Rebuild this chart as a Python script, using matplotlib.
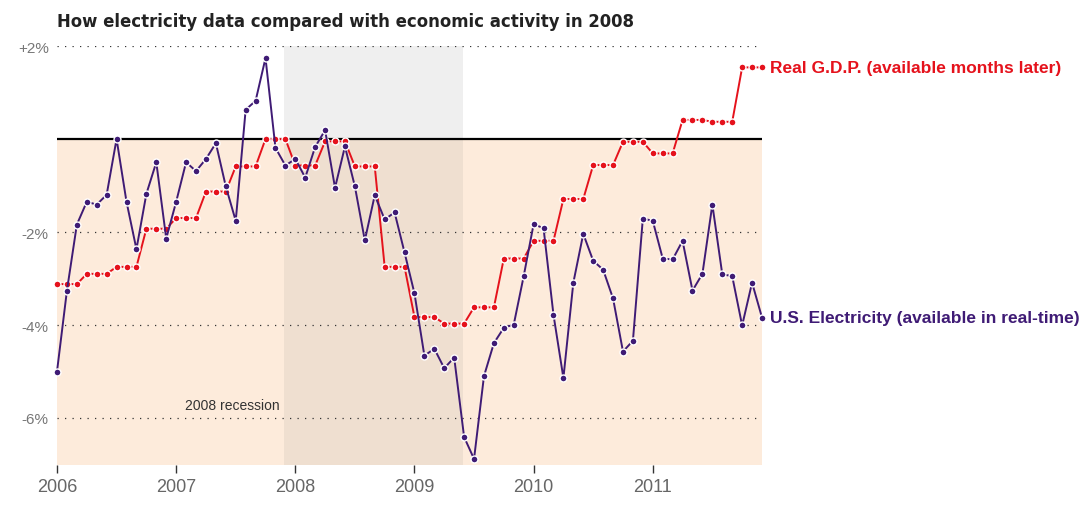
import matplotlib
matplotlib.use("Agg")
import matplotlib.pyplot as plt
import numpy as np
from matplotlib import font_manager as fm

# ---- data (monthly, Jan 2006 .. Dec 2011) ----
electricity = [
    -5.00, -3.26, -1.84, -1.35, -1.41, -1.20, 0.00, -1.35, -2.37, -1.18, -0.50, -2.14,
    -1.35, -0.50, -0.69, -0.43, -0.09, -1.02, -1.76, 0.63, 0.82, 1.74, -0.19, -0.57,
    -0.43, -0.83, -0.17, 0.19, -1.05, -0.16, -1.02, -2.18, -1.21, -1.73, -1.58, -2.44,
    -3.32, -4.66, -4.51, -4.93, -4.70, -6.41, -6.88, -5.10, -4.39, -4.06, -3.99, -2.95,
    -1.83, -1.92, -3.78, -5.14, -3.09, -2.04, -2.62, -2.81, -3.43, -4.57, -4.34, -1.71,
    -1.76, -2.57, -2.59, -2.19, -3.26, -2.90, -1.41, -2.91, -2.95, -4.01, -3.09, -3.84,
]
gdp_quarterly = [-3.12, -2.90, -2.75, -1.93, -1.70, -1.13, -0.59, 0.00,
                 -0.57, -0.05, -0.59, -2.75, -3.83, -3.97, -3.62, -2.57,
                 -2.19, -1.29, -0.56, -0.06, -0.31, 0.41, 0.37, 1.54]
gdp = [v for v in gdp_quarterly for _ in range(3)]
months = np.arange(len(electricity))
year_labels = ["2006", "2007", "2008", "2009", "2010", "2011"]
ytick_values = [2, -2, -4, -6]
ytick_labels = ["+2%", "-2%", "-4%", "-6%"]
recession_start, recession_end = 22.9, 40.9
title = "How electricity data compared with economic activity in 2008"
gdp_label = "Real G.D.P. (available months later)"
elec_label = "U.S. Electricity (available in real-time)"

# find a condensed bold font for the title if present
title_fp = None
for f in fm.fontManager.ttflist:
    if "condensed" in f.fname.lower() and "bold" in f.fname.lower() and "oblique" not in f.fname.lower() and "italic" not in f.fname.lower():
        title_fp = fm.FontProperties(fname=f.fname)
        break
names = {f.name for f in fm.fontManager.ttflist}
label_font = "Liberation Sans" if "Liberation Sans" in names else "DejaVu Sans"

RED = "#e5121c"
PURPLE = "#3f1b75"

W, H = 1086, 510
fig = plt.figure(figsize=(W / 100, H / 100), dpi=100)
ax = fig.add_axes([57 / W, 1 - 465.5 / H, (762 - 57) / W, (465.5 - 47) / H])
ax.set_xlim(0, 71)
ax.set_ylim(-7, 2)

# backgrounds
ax.axhspan(-7, 0, color="#fdebdb", lw=0, zorder=0)
ax.fill_between([recession_start, recession_end], 0, 2, color="#efefef", lw=0, zorder=0.5)
ax.fill_between([recession_start, recession_end], -7, 0, color="#efdfd0", lw=0, zorder=0.5)

# grid
for v in ytick_values:
    ax.axhline(v, color="#333333", lw=0.9, ls=(0, (1, 5)), zorder=1)
ax.axhline(0, color="black", lw=1.6, zorder=2)

# series
ax.plot(months, gdp, color=RED, lw=1.4, marker="o", ms=5, mfc=RED, mec="white",
        mew=1.0, zorder=3, clip_on=False)
ax.plot(months, electricity, color=PURPLE, lw=1.4, marker="o", ms=5, mfc=PURPLE,
        mec="white", mew=1.0, zorder=4, clip_on=False)

# axes styling
for s in ax.spines.values():
    s.set_visible(False)
ax.set_yticks(ytick_values)
ax.set_yticklabels(ytick_labels)
ax.tick_params(axis="y", length=0, pad=6, labelsize=11, labelcolor="#777777")
ax.set_xticks(np.arange(0, 72, 12))
ax.set_xticklabels(year_labels)
ax.tick_params(axis="x", length=6, width=1, color="#333333", pad=4, labelsize=13,
               labelcolor="#666666")
for lab in ax.get_xticklabels() + ax.get_yticklabels():
    lab.set_family(label_font)

ax.text(recession_start - 0.5, -5.72, "2008 recession", ha="right", va="center",
        fontsize=10, color="#333333", family=label_font)

if title_fp is not None:
    t = fig.text(57 / W, 1 - 22 / H, title, ha="left", va="center", fontproperties=title_fp,
                 color="#222222")
    t.set_fontsize(14)
else:
    t = fig.text(57 / W, 1 - 22 / H, title, ha="left", va="center", fontsize=12,
                 fontweight="bold", color="#222222", family="DejaVu Sans")
# fit title width to reference (57 -> 637 px)
fig.canvas.draw()
bb = t.get_window_extent()
t.set_fontsize(t.get_fontsize() * (637 - 57) / bb.width)

ax.annotate(gdp_label, xy=(71, gdp[-1]), xytext=(6, 0), textcoords="offset points",
            ha="left", va="center", fontsize=12.5, fontweight="bold", color=RED,
            family=label_font, annotation_clip=False)
ax.annotate(elec_label, xy=(71, electricity[-1]), xytext=(6, 0), textcoords="offset points",
            ha="left", va="center", fontsize=12.5, fontweight="bold", color=PURPLE,
            family=label_font, annotation_clip=False)

fig.savefig("out.png", dpi=100)
